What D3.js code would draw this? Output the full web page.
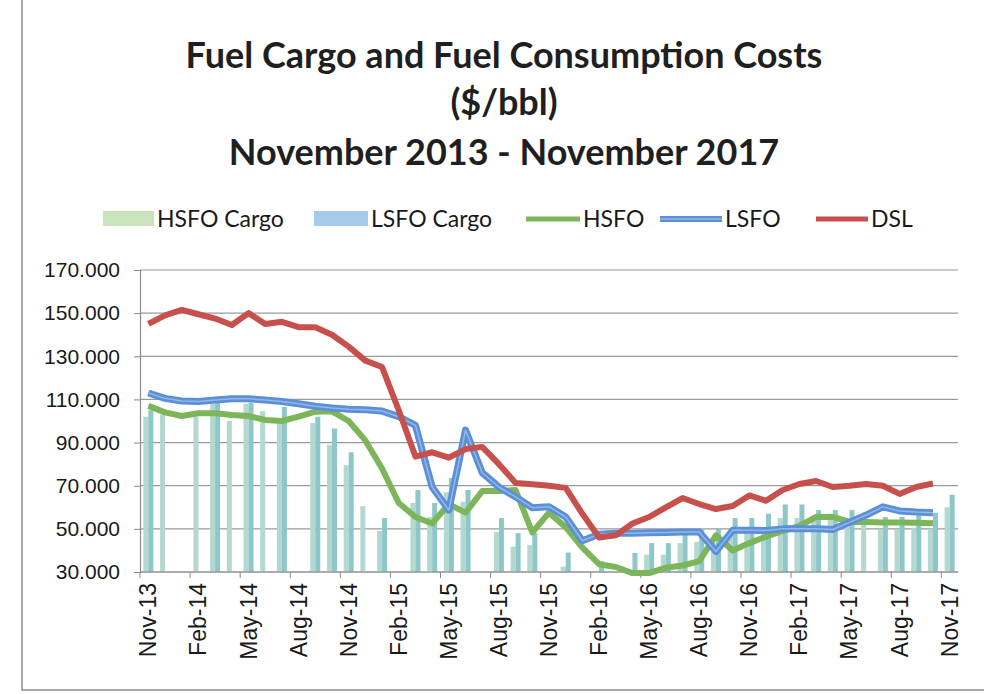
<!DOCTYPE html>
<html>
<head>
<meta charset="utf-8">
<script src="https://cdnjs.cloudflare.com/ajax/libs/d3/7.8.5/d3.min.js"></script>
<style>
  body { margin: 0; background: #fff; }
  svg { display: block; }
</style>
</head>
<body>
<script>
// Fuel Cargo and Fuel Consumption Costs, Nov-13 .. Nov-17 (monthly)
const width = 984;
const height = 694;

const titleLines = ["Fuel Cargo and Fuel Consumption Costs", "($/bbl)", "November 2013 - November 2017"];

// one entry per month, Nov-13 .. Nov-17
const months = ["Nov-13","Dec-13","Jan-14","Feb-14","Mar-14","Apr-14","May-14","Jun-14","Jul-14","Aug-14","Sep-14","Oct-14",
  "Nov-14","Dec-14","Jan-15","Feb-15","Mar-15","Apr-15","May-15","Jun-15","Jul-15","Aug-15","Sep-15","Oct-15",
  "Nov-15","Dec-15","Jan-16","Feb-16","Mar-16","Apr-16","May-16","Jun-16","Jul-16","Aug-16","Sep-16","Oct-16",
  "Nov-16","Dec-16","Jan-17","Feb-17","Mar-17","Apr-17","May-17","Jun-17","Jul-17","Aug-17","Sep-17","Oct-17","Nov-17"];

// x labels shown every 3rd month
const tickLabels = ["Nov-13","Feb-14","May-14","Aug-14","Nov-14","Feb-15","May-15","Aug-15","Nov-15",
  "Feb-16","May-16","Aug-16","Nov-16","Feb-17","May-17","Aug-17","Nov-17"];
const yTicks = [30, 50, 70, 90, 110, 130, 150, 170];

const hsfoCargo = [102,103,null,102,108,100,108,104.5,99,null,99,89,
  79.5,60.5,49,null,62,55.5,67,62.5,null,48.5,41.7,42.5,
  null,32.5,null,null,null,31,38,38,43.4,44,43.5,49,
  49,49.5,55,55,56,57,55,52,49.6,49.6,50.5,50,60];
const lsfoCargo = [105,null,null,null,108.5,null,108.5,null,106.5,null,102,96.5,
  85.5,null,55,null,68,62,73.5,68,null,55,48,48,
  null,39,null,35,null,38.8,43.4,43.4,48.5,50,50,55,
  55,57,61.3,61.3,58.7,58.7,58.7,null,55.5,55.5,57.5,57.5,65.8];
const hsfo = [107,104,102.3,103.6,103.6,102.8,102.3,100.5,100,102,104.3,104.5,
  100,91,78,62,55.5,52.5,61.5,57.5,67.5,67.5,68,48.3,
  57.5,50.8,41.3,33.6,32.3,29.5,29.5,32,33,35,47,40,
  43.4,46.4,49,51.4,55.5,55.5,53.2,53.2,53,53,52.8,52.6,null];
const lsfo = [113,110.5,109.3,109,109.7,110.3,110.3,109.7,109,108,106.8,106,
  105.5,105.2,104.6,102,98,69.4,58.7,95.8,76,69.4,64.8,59.8,
  60.3,55.5,44.5,47.5,48,48,48.2,48.3,48.5,48.5,39.5,49.3,
  49.4,49.2,50,50,50,49.7,53,56.4,60.2,58.3,57.8,57.5,null];
const dsl = [145,149,151.5,149.5,147.5,144.5,150,145,146,143.5,143.5,140,
  134.5,128,125,105,83.5,85.5,83,87,88,80,71.3,70.7,
  70,69,57,46,47,52.5,55.5,60,64.3,61.5,59.2,60.6,
  65.5,63,68,70.8,72.2,69.4,70,70.8,70,66.2,69.4,71,null];

const colors = {
  hsfoCargo: "#b2d8cf", lsfoCargo: "#8ec6ca",
  hsfoCargoKey: "#c9e3ba", lsfoCargoKey: "#a6c9ec",
  hsfo: "#7db65a", lsfo: "#5b8fd6", lsfoInner: "#93b8ea", dsl: "#c7504c"
};

const margin = { top: 270, right: 26, bottom: 122, left: 140 };
const plotW = width - margin.left - margin.right;
const plotH = height - margin.top - margin.bottom;

const svg = d3.select("body").append("svg")
  .attr("width", width)
  .attr("height", height);

// chart frame (scan shows left and bottom edges)
svg.append("path")
  .attr("d", `M22,0V690H984`)
  .attr("fill", "none")
  .attr("stroke", "#8a8a8a")
  .attr("stroke-width", 1.5);

// title
svg.append("g").selectAll("text")
  .data(titleLines)
  .join("text")
  .attr("x", 504)
  .attr("y", (d, i) => [68, 115, 165][i])
  .attr("text-anchor", "middle")
  .attr("font-family", "Lato, 'Open Sans', sans-serif")
  .attr("font-weight", "bold")
  .attr("font-size", 36)
  .attr("fill", "#1f1f1f")
  .text(d => d);

const g = svg.append("g").attr("transform", `translate(${margin.left},${margin.top})`);

const x0 = d3.scaleBand().domain(months).range([0, plotW]).paddingInner(0.4).paddingOuter(0.2);
const x1 = d3.scaleBand().domain(["hsfoCargo", "lsfoCargo"]).range([0, x0.bandwidth()]);
const y = d3.scaleLinear().domain([30, 170]).range([plotH, 0]);
const cx = m => x0(m) + x0.bandwidth() / 2;

// gridlines
g.append("g")
  .selectAll("line")
  .data(yTicks)
  .join("line")
  .attr("x1", 0)
  .attr("x2", plotW)
  .attr("y1", d => y(d))
  .attr("y2", d => y(d))
  .attr("stroke", "#9a9a9a")
  .attr("stroke-width", 1.2);

// bars
const barRows = months.map((m, i) => ({ m, hsfoCargo: hsfoCargo[i], lsfoCargo: lsfoCargo[i] }));
g.append("g")
  .selectAll("g")
  .data(barRows)
  .join("g")
  .attr("transform", d => `translate(${x0(d.m)},0)`)
  .selectAll("rect")
  .data(d => ["hsfoCargo", "lsfoCargo"].filter(k => d[k] != null).map(k => ({ k, v: d[k] })))
  .join("rect")
  .attr("x", d => x1(d.k))
  .attr("width", x1.bandwidth())
  .attr("y", d => y(d.v))
  .attr("height", d => plotH - y(d.v))
  .attr("fill", d => colors[d.k]);

// y axis
const yAxis = g.append("g")
  .call(d3.axisLeft(y).tickValues(yTicks).tickFormat(d3.format(".3f")).tickSize(6).tickPadding(14));
yAxis.select(".domain").attr("stroke", "#8a8a8a").attr("stroke-width", 1.2);
yAxis.selectAll(".tick line").attr("stroke", "#8a8a8a");
yAxis.selectAll("text")
  .attr("font-family", "'Liberation Sans', Arial, sans-serif")
  .attr("font-size", 21)
  .attr("fill", "#1a1a1a");

// x axis: ticks between months every quarter, labels centred in the month band
const xAxisG = g.append("g").attr("transform", `translate(0,${plotH})`);
xAxisG.append("line")
  .attr("x1", 0).attr("x2", plotW)
  .attr("stroke", "#8a8a8a").attr("stroke-width", 1.2);
xAxisG.selectAll("line.tick")
  .data(months.filter((m, i) => i % 3 === 0))
  .join("line")
  .attr("class", "tick")
  .attr("x1", d => x0(d) - x0.step() * x0.paddingInner() / 2)
  .attr("x2", d => x0(d) - x0.step() * x0.paddingInner() / 2)
  .attr("y1", 0).attr("y2", 6)
  .attr("stroke", "#8a8a8a");
xAxisG.selectAll("text")
  .data(tickLabels)
  .join("text")
  .attr("transform", d => `translate(${cx(d) + 8},11) rotate(-90)`)
  .attr("text-anchor", "end")
  .attr("font-family", "'Liberation Sans', Arial, sans-serif")
  .attr("font-size", 23)
  .attr("fill", "#1a1a1a")
  .text(d => d);

// lines
const lineGen = vals => d3.line()
  .defined((d, i) => vals[i] != null)
  .x(d => cx(d))
  .y((d, i) => y(vals[i]))(months);

g.append("path")
  .attr("d", lineGen(hsfo))
  .attr("fill", "none").attr("stroke", colors.hsfo)
  .attr("stroke-width", 6).attr("stroke-linejoin", "round");
g.append("path")
  .attr("d", lineGen(lsfo))
  .attr("fill", "none").attr("stroke", colors.lsfo)
  .attr("stroke-width", 7).attr("stroke-linejoin", "round");
g.append("path")
  .attr("d", lineGen(lsfo))
  .attr("fill", "none").attr("stroke", colors.lsfoInner)
  .attr("stroke-width", 1.5).attr("stroke-linejoin", "round");
g.append("path")
  .attr("d", lineGen(dsl))
  .attr("fill", "none").attr("stroke", colors.dsl)
  .attr("stroke-width", 6).attr("stroke-linejoin", "round");

// legend
const legendItems = [
  { name: "HSFO Cargo", type: "rect", color: colors.hsfoCargoKey, x: 103, w: 51 },
  { name: "LSFO Cargo", type: "rect", color: colors.lsfoCargoKey, x: 314, w: 54 },
  { name: "HSFO", type: "line", color: colors.hsfo, x: 526, w: 54 },
  { name: "LSFO", type: "double", color: colors.lsfo, x: 660, w: 62 },
  { name: "DSL", type: "line", color: colors.dsl, x: 816, w: 52 }
];
const legend = svg.append("g").attr("transform", "translate(0,219)");
const li = legend.selectAll("g").data(legendItems).join("g");
li.filter(d => d.type === "rect").append("rect")
  .attr("x", d => d.x).attr("y", -8).attr("width", d => d.w).attr("height", 15)
  .attr("fill", d => d.color);
li.filter(d => d.type !== "rect").append("line")
  .attr("x1", d => d.x).attr("x2", d => d.x + d.w)
  .attr("stroke", d => d.color).attr("stroke-width", d => d.type === "double" ? 6 : 5);
li.filter(d => d.type === "double").append("line")
  .attr("x1", d => d.x).attr("x2", d => d.x + d.w)
  .attr("stroke", colors.lsfoInner).attr("stroke-width", 1.5);
li.append("text")
  .attr("x", d => d.x + d.w + 3)
  .attr("y", 8)
  .attr("font-family", "Lato, 'Open Sans', sans-serif")
  .attr("font-size", 23)
  .attr("fill", "#1a1a1a")
  .text(d => d.name);
</script>
</body>
</html>
